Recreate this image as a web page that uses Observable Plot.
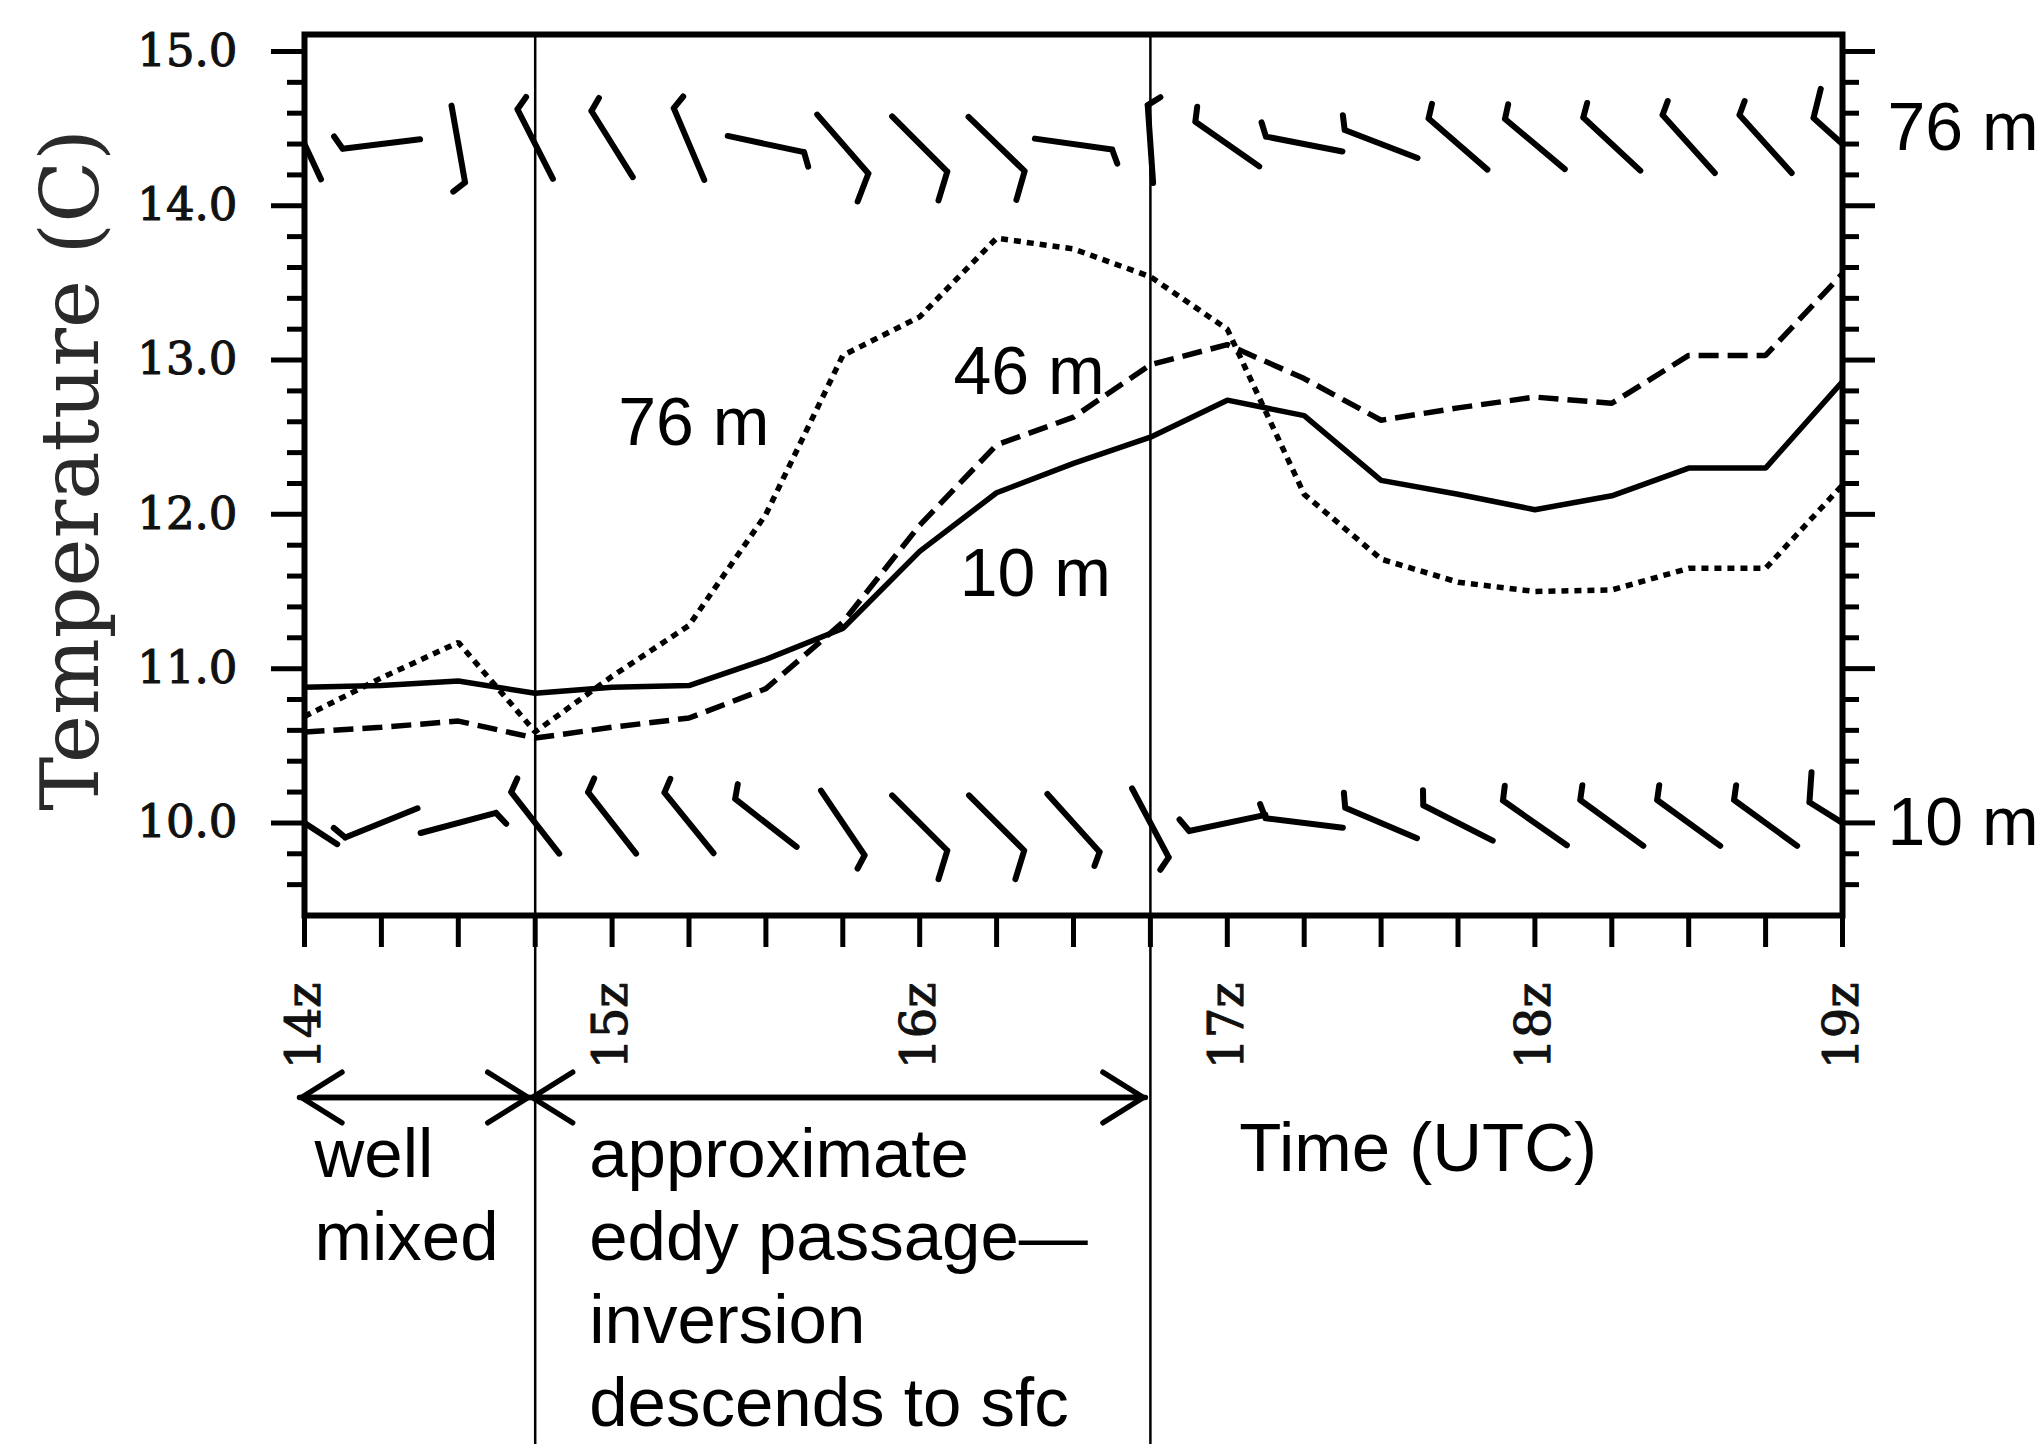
<!DOCTYPE html>
<html>
<head>
<meta charset="utf-8">
<script src="https://cdn.jsdelivr.net/npm/d3@7"></script>
<script src="https://cdn.jsdelivr.net/npm/@observablehq/plot@0.6"></script>
<style>
  html, body { margin: 0; padding: 0; background: #ffffff; }
  #chart svg { display: block; }
</style>
</head>
<body>
<div id="chart"></div>
<script>
// ---- data ----
// observation times, hours UTC, every 15 minutes
const times = [14, 14.25, 14.5, 14.75, 15, 15.25, 15.5, 15.75, 16, 16.25, 16.5, 16.75, 17, 17.25, 17.5, 17.75, 18, 18.25, 18.5, 18.75, 19];
// temperature (C) at three heights
const temp10 = [10.88, 10.89, 10.92, 10.84, 10.88, 10.89, 11.06, 11.26, 11.76, 12.14, 12.33, 12.50, 12.74, 12.64, 12.22, 12.13, 12.03, 12.12, 12.30, 12.30, 12.86];
const temp46 = [10.59, 10.62, 10.66, 10.55, 10.62, 10.68, 10.87, 11.30, 11.93, 12.45, 12.63, 12.97, 13.10, 12.88, 12.61, 12.69, 12.76, 12.72, 13.03, 13.03, 13.56];
const temp76 = [10.69, 10.94, 11.17, 10.59, 10.95, 11.28, 12.00, 13.03, 13.28, 13.79, 13.72, 13.54, 13.20, 12.13, 11.71, 11.56, 11.50, 11.51, 11.65, 11.65, 12.19];
// wind barbs: direction wind blows from (deg) and speed (barb units: half barb = 5, full = 10)
const windDir76 = [335, 263, 170, 333, 328, 337, 102, 139, 135, 134, 98, 356, 305, 281, 291, 311, 310, 313, 318, 318, 312];
const windSpd76 = [5, 5, 5, 5, 5, 5, 5, 10, 10, 10, 5, 5, 5, 5, 5, 5, 5, 5, 5, 5, 10];
const windDir10 = [303, 248, 75, 322, 322, 321, 308, 146, 135, 135, 138, 152, 258, 277, 293, 297, 305, 306, 306, 306, 302];
const windSpd10 = [5, 5, 5, 5, 5, 5, 5, 5, 10, 10, 5, 5, 5, 5, 5, 5, 5, 5, 5, 5, 10];
// barb rows drawn on the temperature axis, and their level names
const barbLevelNames = ["76 m", "10 m"];
const barbLevelRows = [14.4, 10.0];
const barbLevelLabelRows = [14.5, 10.0];
// tick labels
const hourTicks = [14, 15, 16, 17, 18, 19];
const hourLabels = ["14z", "15z", "16z", "17z", "18z", "19z"];
const tempTicks = [10, 11, 12, 13, 14, 15];
const tempLabels = ["10.0", "11.0", "12.0", "13.0", "14.0", "15.0"];
// regime boundaries and annotations
const periodStarts = [14, 14.75];
const periodEnds = [14.75, 16.75];
const periodTexts = ["well\nmixed", "approximate\neddy passage\u2014\ninversion\ndescends to sfc"];
const periodBounds = [14.75, 16.75];
// line labels (anchor in data units)
const lineLabelTexts = ["76 m", "46 m", "10 m"];
const lineLabelTimes = [15.02, 16.11, 16.13];
const lineLabelTemps = [12.59, 12.92, 11.61];

// ---- layout ----
const W = 2044, H = 1444;
const mL = 304, mR = 202, mT = 34, mB = 529;
const xDomain = [14, 19];
const yDomain = [9.4, 15.11];
const pxPerDeg = (H - mT - mB) / (yDomain[1] - yDomain[0]);
const yBelow = yDomain[0] - mB / pxPerDeg; // maps to the bottom of the svg

const serif = "DejaVu Serif";
const sans = "Liberation Sans, Arial, Helvetica, sans-serif";

// ---- derived tables ----
const series = [
  {name: "10 m", values: temp10, dash: null},
  {name: "46 m", values: temp46, dash: "20,9"},
  {name: "76 m", values: temp76, dash: "7,6"}
];
const barbs = [];
times.forEach((t, i) => {
  barbs.push({t, row: barbLevelRows[0], dir: windDir76[i], spd: windSpd76[i]});
  barbs.push({t, row: barbLevelRows[1], dir: windDir10[i], spd: windSpd10[i]});
});
const minorY = d3.range(9.6, 15.01, 0.2).map(v => +v.toFixed(1)).filter(v => Math.abs(v - Math.round(v)) > 1e-6);
const periods = periodStarts.map((s, i) => ({start: s, end: periodEnds[i], text: periodTexts[i]}));
const arrows = periods.flatMap(p => [{a: p.start, b: p.end}, {a: p.end, b: p.start}]);
const lineLabels = lineLabelTexts.map((s, i) => ({text: s, t: lineLabelTimes[i], v: lineLabelTemps[i]}));
const rightLabels = barbLevelNames.map((s, i) => ({text: s, v: barbLevelLabelRows[i]}));

// wind barb glyph: shaft toward wind source, feathers clockwise at the far end
function barbShape(speed) {
  const full = Math.floor(speed / 10);
  const half = (speed % 10) >= 5;
  const F = 30, ang = 62 * Math.PI / 180, sp = 11;
  return {
    draw(ctx, l) {
      ctx.moveTo(0, 0);
      ctx.lineTo(0, -l);
      let p = -l;
      for (let k = 0; k < full; k++) {
        ctx.moveTo(0, p);
        ctx.lineTo(F * Math.sin(ang), p - F * Math.cos(ang));
        p += sp;
      }
      if (half) {
        ctx.moveTo(0, p);
        ctx.lineTo(F / 2 * Math.sin(ang), p - F / 2 * Math.cos(ang));
      }
    }
  };
}
const speeds = Array.from(new Set(barbs.map(d => d.spd)));

const marks = [];
// temperature lines
series.forEach(s => {
  marks.push(Plot.line(times.map((t, i) => ({t, v: s.values[i]})), {
    x: "t", y: "v", stroke: "#000", strokeWidth: 5.5,
    strokeDasharray: s.dash, strokeLinecap: "butt", strokeLinejoin: "miter"
  }));
});
// wind barbs
speeds.forEach(s => {
  marks.push(Plot.vector(barbs.filter(d => d.spd === s), {
    x: "t", y: "row", rotate: "dir", length: 78, anchor: "middle",
    shape: barbShape(s), stroke: "#000", strokeWidth: 6,
    strokeLinecap: "round", clip: true
  }));
});
// regime boundary lines
marks.push(Plot.ruleX(periodBounds, {x: d => d, y1: () => yDomain[1], y2: () => yBelow, stroke: "#000", strokeWidth: 2.5}));
// frame
marks.push(Plot.frame({stroke: "#000", strokeWidth: 6}));
// axes
marks.push(Plot.axisY(tempTicks, {anchor: "left", tickSize: 33, tickPadding: 34, strokeWidth: 5,
  tickFormat: d => tempLabels[tempTicks.indexOf(d)], fontSize: 45, fontFamily: serif, fill: "#111",
  textStroke: "#111", textStrokeWidth: 1.1, label: null}));
marks.push(Plot.axisY(minorY, {anchor: "left", tickSize: 17, strokeWidth: 5, tickFormat: () => "", label: null}));
marks.push(Plot.axisY(tempTicks, {anchor: "right", tickSize: 32, strokeWidth: 5, tickFormat: () => "", label: null}));
marks.push(Plot.axisY(minorY, {anchor: "right", tickSize: 16, strokeWidth: 5, tickFormat: () => "", label: null}));
marks.push(Plot.axisX(times, {anchor: "bottom", tickSize: 32, tickPadding: 35, tickRotate: -90, strokeWidth: 5,
  tickFormat: d => { const k = hourTicks.indexOf(d); return k >= 0 ? hourLabels[k] : ""; },
  fontSize: 48, fontFamily: serif, fill: "#111", textStroke: "#111", textStrokeWidth: 1.1, label: null}));
// y-axis title
marks.push(Plot.text(["Temperature (C)"], {frameAnchor: "left", textAnchor: "middle", lineAnchor: "middle",
  rotate: -90, dx: -232, dy: -5, fontSize: 81, fontFamily: serif, fill: "#2a2a2a"}));
// line labels
marks.push(Plot.text(lineLabels, {x: "t", y: "v", text: "text", textAnchor: "start",
  fontSize: 68, fontFamily: sans, fill: "#000"}));
// right-hand level labels
marks.push(Plot.text(rightLabels, {x: () => xDomain[1], y: "v", text: "text", textAnchor: "start", dx: 45,
  fontSize: 68, fontFamily: sans, fill: "#000"}));
// period arrows
marks.push(Plot.arrow(arrows, {x1: "a", x2: "b", y1: () => yDomain[0], y2: () => yDomain[0], dx: -5, dy: 182,
  stroke: "#000", strokeWidth: 5.5, headLength: 13, headAngle: 64, insetEnd: 2}));
// period texts
marks.push(Plot.text(periods.slice(0, 1), {x: "start", y: () => yDomain[0], text: "text", textAnchor: "start",
  lineAnchor: "top", lineHeight: 1.2, dx: 10, dy: 203, fontSize: 69, fontFamily: sans, fill: "#000"}));
marks.push(Plot.text(periods.slice(1), {x: "start", y: () => yDomain[0], text: "text", textAnchor: "start",
  lineAnchor: "top", lineHeight: 1.2, dx: 54, dy: 203, fontSize: 69, fontFamily: sans, fill: "#000"}));
// x-axis title
marks.push(Plot.text(["Time (UTC)"], {x: () => 17, y: () => yDomain[0], textAnchor: "start", lineAnchor: "top",
  dx: 12, dy: 206, fontSize: 69, fontFamily: sans, fill: "#000"}));

const chart = Plot.plot({
  width: W, height: H,
  marginLeft: mL, marginRight: mR, marginTop: mT, marginBottom: mB,
  x: {type: "linear", domain: xDomain},
  y: {type: "linear", domain: yDomain},
  style: {fontFamily: serif, background: "#ffffff", overflow: "visible"},
  marks
});
document.getElementById("chart").appendChild(chart);
</script>
</body>
</html>
